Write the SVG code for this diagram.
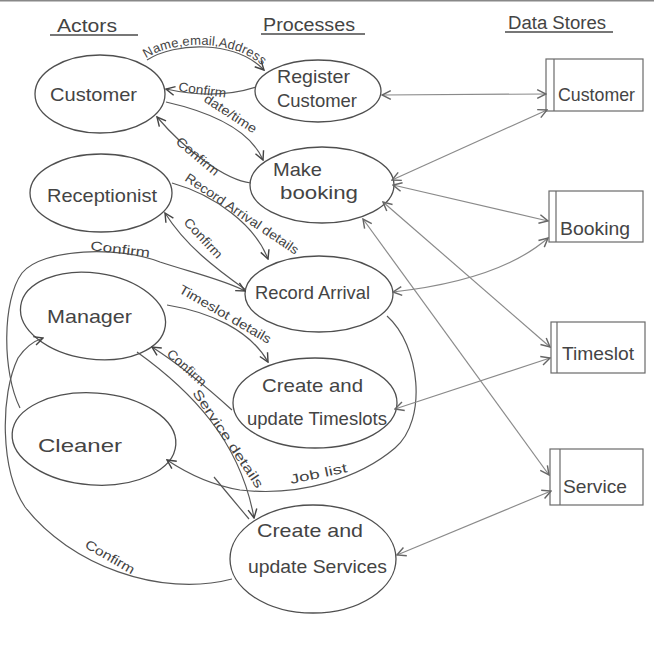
<svg xmlns="http://www.w3.org/2000/svg" width="654" height="666" viewBox="0 0 654 666">
  <style>
    .bg { fill: #ffffff; }
    .hdr { font-family: "Liberation Sans", "DejaVu Sans", sans-serif; font-size: 18px; fill: #444; }
    .uline { stroke: #4a4a4a; stroke-width: 1.3; fill: none; }
    .node { fill: none; stroke: #4f4f4f; stroke-width: 1.3; }
    .store { fill: none; stroke: #6a6a6a; stroke-width: 1.2; }
    .ntxt { font-family: "Liberation Sans", "DejaVu Sans", sans-serif; font-size: 19px; fill: #444; }
    .flow { fill: none; stroke: #585858; stroke-width: 1.2; }
    .dflow { fill: none; stroke: #8a8a8a; stroke-width: 1.2; }
    .ftxt { font-family: "Liberation Sans", "DejaVu Sans", sans-serif; font-size: 13px; fill: #444; }
  </style>
  <defs>
    <marker id="arr" viewBox="0 0 10 10" refX="9" refY="5" markerWidth="11" markerHeight="11" markerUnits="userSpaceOnUse" orient="auto-start-reverse">
      <path d="M1,1 L9,5 L1,9" fill="none" stroke="#444" stroke-width="1.3"/>
    </marker>
    <marker id="arrL" viewBox="0 0 10 10" refX="9" refY="5" markerWidth="11" markerHeight="11" markerUnits="userSpaceOnUse" orient="auto-start-reverse">
      <path d="M1,1 L9,5 L1,9" fill="none" stroke="#666" stroke-width="1.3"/>
    </marker>
  </defs>

  <rect class="bg" x="0" y="0" width="654" height="666"/>
  <line x1="0" y1="0.8" x2="654" y2="0.8" stroke="#888" stroke-width="1.5"/>

  <!-- column headings -->
  <g id="headings">
    <text class="hdr" x="57" y="32" textLength="60" lengthAdjust="spacingAndGlyphs">Actors</text>
    <line class="uline" x1="50" y1="35" x2="138" y2="35"/>
    <text class="hdr" x="263" y="31" textLength="92" lengthAdjust="spacingAndGlyphs">Processes</text>
    <line class="uline" x1="261" y1="34" x2="365" y2="34"/>
    <text class="hdr" x="508" y="29" textLength="98" lengthAdjust="spacingAndGlyphs">Data Stores</text>
    <line class="uline" x1="505" y1="32" x2="613" y2="32"/>
  </g>

  <!-- actors -->
  <g id="actor-customer">
    <ellipse class="node" cx="100" cy="94" rx="65" ry="39"/>
    <text class="ntxt" x="50" y="101" font-size="21" textLength="87" lengthAdjust="spacingAndGlyphs">Customer</text>
  </g>
  <g id="actor-receptionist">
    <ellipse class="node" cx="101" cy="193" rx="71" ry="39"/>
    <text class="ntxt" x="47" y="202" font-size="20" textLength="110" lengthAdjust="spacingAndGlyphs">Receptionist</text>
  </g>
  <g id="actor-manager">
    <ellipse class="node" cx="93" cy="316" rx="73" ry="43" transform="rotate(8 93 316)"/>
    <text class="ntxt" x="47" y="323" font-size="22" textLength="85" lengthAdjust="spacingAndGlyphs">Manager</text>
  </g>
  <g id="actor-cleaner">
    <ellipse class="node" cx="94" cy="439" rx="82" ry="46" transform="rotate(4 94 439)"/>
    <text class="ntxt" x="38" y="452" font-size="24" textLength="84" lengthAdjust="spacingAndGlyphs">Cleaner</text>
  </g>

  <!-- processes -->
  <g id="proc-register">
    <ellipse class="node" cx="318" cy="91" rx="63" ry="31"/>
    <text class="ntxt" x="277" y="83" textLength="73" lengthAdjust="spacingAndGlyphs">Register</text>
    <text class="ntxt" x="277" y="107" textLength="80" lengthAdjust="spacingAndGlyphs">Customer</text>
  </g>
  <g id="proc-booking">
    <ellipse class="node" cx="322" cy="185" rx="72" ry="38"/>
    <text class="ntxt" x="273" y="176" textLength="49" lengthAdjust="spacingAndGlyphs">Make</text>
    <text class="ntxt" x="280" y="199" textLength="78" lengthAdjust="spacingAndGlyphs">booking</text>
  </g>
  <g id="proc-arrival">
    <ellipse class="node" cx="319" cy="294" rx="74" ry="38"/>
    <text class="ntxt" x="255" y="299" textLength="115" lengthAdjust="spacingAndGlyphs">Record Arrival</text>
  </g>
  <g id="proc-timeslots">
    <ellipse class="node" cx="315" cy="403" rx="82" ry="45"/>
    <text class="ntxt" x="262" y="392" textLength="101" lengthAdjust="spacingAndGlyphs">Create and</text>
    <text class="ntxt" x="247" y="425" textLength="140" lengthAdjust="spacingAndGlyphs">update Timeslots</text>
  </g>
  <g id="proc-services">
    <ellipse class="node" cx="313" cy="559" rx="83" ry="54"/>
    <text class="ntxt" x="257" y="537" textLength="106" lengthAdjust="spacingAndGlyphs">Create and</text>
    <text class="ntxt" x="248" y="573" textLength="139" lengthAdjust="spacingAndGlyphs">update Services</text>
  </g>

  <!-- data stores -->
  <g id="store-customer">
    <rect class="store" x="546" y="59" width="97" height="52"/>
    <line class="store" x1="554" y1="59" x2="554" y2="111"/>
    <text class="ntxt" x="558" y="101" font-size="20" textLength="77" lengthAdjust="spacingAndGlyphs">Customer</text>
  </g>
  <g id="store-booking">
    <rect class="store" x="549" y="191" width="94" height="51"/>
    <line class="store" x1="556" y1="191" x2="556" y2="242"/>
    <text class="ntxt" x="560" y="235" font-size="20" textLength="70" lengthAdjust="spacingAndGlyphs">Booking</text>
  </g>
  <g id="store-timeslot">
    <rect class="store" x="551" y="322" width="94" height="51"/>
    <line class="store" x1="557" y1="322" x2="557" y2="373"/>
    <text class="ntxt" x="562" y="360" font-size="20" textLength="72" lengthAdjust="spacingAndGlyphs">Timeslot</text>
  </g>
  <g id="store-service">
    <rect class="store" x="550" y="449" width="93" height="56"/>
    <line class="store" x1="560" y1="449" x2="560" y2="505"/>
    <text class="ntxt" x="563" y="493" font-size="20" textLength="64" lengthAdjust="spacingAndGlyphs">Service</text>
  </g>

  <!-- connectors -->
  <g id="connectors">
    <!-- actor/process flows -->
    <path id="p-name" class="flow" d="M 147 60 C 175 42, 235 40, 264 70" marker-end="url(#arr)"/>
    <text class="ftxt" font-size="13.5" dy="-2"><textPath href="#p-name">Name,email,Address</textPath></text>

    <path class="flow" d="M 256 87 Q 215 100 166 89" marker-end="url(#arr)"/>
    <text class="ftxt" x="178" y="91" transform="rotate(8 178 91)" textLength="48" lengthAdjust="spacingAndGlyphs">Confirm</text>

    <path class="flow" d="M 166 102 C 210 112, 250 130, 263 160" marker-end="url(#arr)"/>
    <text class="ftxt" x="203" y="101" transform="rotate(33 203 101)" textLength="60" lengthAdjust="spacingAndGlyphs">date/time</text>

    <path class="flow" d="M 251 183 C 225 180, 185 150, 157 117" marker-end="url(#arr)"/>
    <text class="ftxt" x="175" y="143" transform="rotate(40 175 143)" textLength="52" lengthAdjust="spacingAndGlyphs">Confirm</text>

    <path class="flow" d="M 172 183 C 215 195, 255 225, 268 259" marker-end="url(#arr)"/>
    <text class="ftxt" x="184" y="180" font-size="12.5" transform="rotate(34 184 180)" textLength="134" lengthAdjust="spacingAndGlyphs">Record Arrival details</text>

    <path class="flow" d="M 246 290 C 215 268, 185 245, 165 213" marker-end="url(#arr)"/>
    <text class="ftxt" x="183" y="223" transform="rotate(47 183 223)" textLength="50" lengthAdjust="spacingAndGlyphs">Confirm</text>

    <path class="flow" d="M 20 408 C 2 372, 2 300, 22 273 C 42 248, 120 246, 160 262 C 190 272, 225 280, 245 291" marker-end="url(#arr)"/>
    <text class="ftxt" x="90" y="250" transform="rotate(7 90 250)" textLength="60" lengthAdjust="spacingAndGlyphs">Confirm</text>

    <path class="flow" d="M 167 305 C 210 312, 250 330, 268 362" marker-end="url(#arr)"/>
    <text class="ftxt" x="178" y="292" transform="rotate(30 178 292)" textLength="104" lengthAdjust="spacingAndGlyphs">Timeslot details</text>

    <path class="flow" d="M 232 410 C 210 390, 180 365, 152 347" marker-end="url(#arr)"/>
    <text class="ftxt" x="166" y="355" transform="rotate(42 166 355)" textLength="48" lengthAdjust="spacingAndGlyphs">Confirm</text>

    <path class="flow" d="M 137 352 C 190 390, 240 440, 254 518" marker-end="url(#arr)"/>
    <text class="ftxt" x="192" y="393" transform="rotate(56 192 393)" textLength="116" lengthAdjust="spacingAndGlyphs">Service details</text>

    <path class="flow" d="M 387 316 C 420 345, 428 420, 395 448 C 360 478, 300 497, 240 490 C 210 485, 185 472, 167 460" marker-end="url(#arr)"/>
    <text class="ftxt" x="291" y="484" font-size="14" transform="rotate(-12 291 484)" textLength="58" lengthAdjust="spacingAndGlyphs">Job list</text>

    <path class="flow" d="M 214 477 Q 233 500 249 519"/>

    <path class="flow" d="M 232 579 C 160 598, 70 565, 25 507 C 0 470, 0 395, 18 358 Q 28 343 43 338" marker-end="url(#arr)"/>
    <text class="ftxt" x="84" y="547" transform="rotate(30 84 547)" textLength="55" lengthAdjust="spacingAndGlyphs">Confirm</text>

    <!-- process/store flows -->
    <path class="dflow" d="M 382 95 L 546 94" marker-start="url(#arrL)" marker-end="url(#arrL)"/>
    <path class="dflow" d="M 392 180 L 547 110" marker-start="url(#arrL)" marker-end="url(#arrL)"/>
    <path class="dflow" d="M 393 185 L 548 221" marker-start="url(#arrL)" marker-end="url(#arrL)"/>
    <path class="dflow" d="M 393 292 Q 500 280 548 238" marker-start="url(#arrL)" marker-end="url(#arrL)"/>
    <path class="dflow" d="M 383 202 L 550 347" marker-start="url(#arrL)" marker-end="url(#arrL)"/>
    <path class="dflow" d="M 363 219 L 549 475" marker-start="url(#arrL)" marker-end="url(#arrL)"/>
    <path class="dflow" d="M 395 409 L 550 358" marker-start="url(#arrL)" marker-end="url(#arrL)"/>
    <path class="dflow" d="M 397 555 L 551 491" marker-start="url(#arrL)" marker-end="url(#arrL)"/>
  </g>
</svg>
